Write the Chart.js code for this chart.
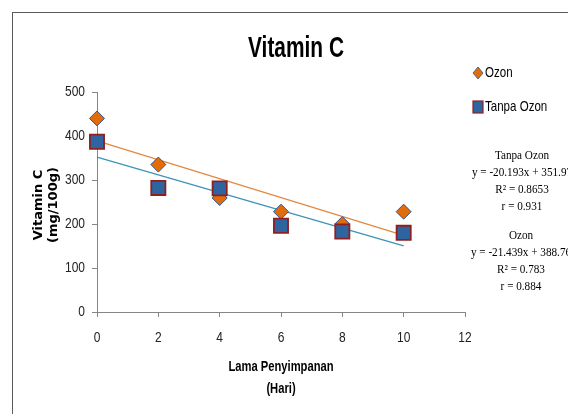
<!DOCTYPE html>
<html>
<head>
<meta charset="utf-8">
<title>Vitamin C</title>
<script src="https://cdn.jsdelivr.net/npm/chart.js@4.4.1/dist/chart.umd.min.js"></script>
<style>
  html, body { margin: 0; padding: 0; background: #fff; overflow: hidden; }
  #wrap { position: relative; width: 568px; height: 414px; }
  #frame {
    position: absolute; left: 12px; top: 12px;
    width: 620px; height: 460px;
    border: 1.5px solid #5a5a5a;
  }
  canvas { position: absolute; left: 0; top: 0; }
</style>
</head>
<body>
<div id="wrap">
  <div id="frame"></div>
  <canvas id="vitChart" width="568" height="414"></canvas>
</div>
<script>
// data
const days = [0, 2, 4, 6, 8, 10];
const ozon = [440, 335, 259, 228, 200, 228];
const tanpaOzon = [387, 282, 281, 196, 183, 180];
const yTicks = [0, 100, 200, 300, 400, 500];
const xTicks = [0, 2, 4, 6, 8, 10, 12];

// trend lines as printed on the chart (slope, intercept)
const ozonFit = [-21.439, 388.76];
const tanpaFit = [-20.193, 351.97];
const ozonNotes = ['Ozon', 'y = -21.439x + 388.76', 'R\u00B2 = 0.783', 'r = 0.884'];
const tanpaNotes = ['Tanpa Ozon', 'y = -20.193x + 351.97', 'R\u00B2 = 0.8653', 'r = 0.931'];

const sans = '"Liberation Sans", Arial, sans-serif';

function fitLine(fit) {
  const x0 = days[0], x1 = days[days.length - 1];
  return [{ x: x0, y: fit[0] * x0 + fit[1] }, { x: x1, y: fit[0] * x1 + fit[1] }];
}

// desenha texto "estreito" (a fonte original é condensada)
function narrowText(c, text, x, y, font, sx, align) {
  c.save();
  c.translate(x, y);
  c.scale(sx, 1);
  c.font = font;
  c.textAlign = align || 'center';
  c.fillText(text, 0, 0);
  c.restore();
}

// textos extras: titulo, ticks, eixos, legenda e equações
const extraText = {
  id: 'extraText',
  afterDraw(chart) {
    const c = chart.ctx;
    const xs = chart.scales.x, ys = chart.scales.y;
    c.save();
    c.fillStyle = '#000';
    c.textBaseline = 'middle';

    // title
    narrowText(c, 'Vitamin C', 296, 49, 'bold 29px ' + sans, 0.72);

    // tick labels
    c.fillStyle = '#222';
    xTicks.forEach(v => narrowText(c, String(v), xs.getPixelForValue(v), 338, '15px ' + sans, 0.8));
    yTicks.forEach(v => narrowText(c, String(v), 85, ys.getPixelForValue(v), '15px ' + sans, 0.8, 'right'));

    // x axis title
    c.fillStyle = '#000';
    narrowText(c, 'Lama Penyimpanan', 281, 367, 'bold 14px ' + sans, 0.8);
    narrowText(c, '(Hari)', 281, 389, 'bold 14px ' + sans, 0.8);

    // y axis title (rotated)
    c.save();
    c.translate(39, 205);
    c.rotate(-Math.PI / 2);
    c.textAlign = 'center';
    c.font = 'bold 13px "DejaVu Sans", Verdana, sans-serif';
    c.fillText('Vitamin C', 0, 0);
    c.fillText('(mg/100g)', 0, 15);
    c.restore();

    // legend
    c.beginPath();
    c.moveTo(478, 67); c.lineTo(483, 73); c.lineTo(478, 79); c.lineTo(473, 73); c.closePath();
    c.fillStyle = '#e36c0a'; c.fill();
    c.strokeStyle = '#2f5597'; c.lineWidth = 0.8; c.stroke();
    c.fillStyle = '#000';
    narrowText(c, 'Ozon', 485, 73, '15px ' + sans, 0.77, 'left');

    c.fillStyle = '#2e64a0';
    c.fillRect(473, 101, 10, 12);
    c.strokeStyle = '#8e2020'; c.lineWidth = 1.2;
    c.strokeRect(473, 101, 10, 12);
    c.fillStyle = '#000';
    narrowText(c, 'Tanpa Ozon', 485, 107, '15px ' + sans, 0.77, 'left');

    // regression notes
    const serif = '13px "Liberation Serif", "Times New Roman", serif';
    tanpaNotes.forEach((t, i) => narrowText(c, t, 522, 156 + i * 17, serif, 0.86));
    ozonNotes.forEach((t, i) => narrowText(c, t, 521, 236 + i * 17, serif, 0.86));
    c.restore();
  }
};

const ctx = document.getElementById('vitChart').getContext('2d');
const vitChart = new Chart(ctx, {
  type: 'scatter',
  data: {
    datasets: [
      {
        label: 'Tanpa Ozon',
        data: days.map((d, i) => ({ x: d, y: tanpaOzon[i] })),
        pointStyle: 'rect',
        pointRadius: 10,
        backgroundColor: '#2e64a0',
        borderColor: '#8e2020',
        borderWidth: 1.8,
        clip: false,
        order: 0
      },
      {
        label: 'Ozon',
        data: days.map((d, i) => ({ x: d, y: ozon[i] })),
        pointStyle: 'rectRot',
        pointRadius: 7.5,
        backgroundColor: '#e36c0a',
        borderColor: '#2f5597',
        borderWidth: 1,
        clip: false,
        order: 1
      },
      {
        label: 'fit ozon',
        type: 'line',
        data: fitLine(ozonFit),
        borderColor: '#e4883f',
        borderWidth: 1.3,
        pointRadius: 0,
        fill: false,
        clip: false,
        order: 2
      },
      {
        label: 'fit tanpa',
        type: 'line',
        data: fitLine(tanpaFit),
        borderColor: '#3d93b6',
        borderWidth: 1.3,
        pointRadius: 0,
        fill: false,
        clip: false,
        order: 3
      }
    ]
  },
  options: {
    responsive: false,
    animation: false,
    events: [],
    layout: { padding: { left: 0, right: 103, top: 92, bottom: 0 } },
    plugins: {
      legend: { display: false },
      title: { display: false },
      tooltip: { enabled: false }
    },
    scales: {
      x: {
        type: 'linear',
        min: 0,
        max: 12,
        afterFit: s => { s.height = 102; },
        afterBuildTicks: s => { s.ticks = xTicks.map(v => ({ value: v })); },
        border: { color: '#868686', width: 1 },
        grid: { drawOnChartArea: false, drawTicks: true, tickLength: 5, color: '#868686' },
        ticks: { display: false }
      },
      y: {
        min: 0,
        max: 500,
        afterFit: s => { s.width = 97; },
        afterBuildTicks: s => { s.ticks = yTicks.map(v => ({ value: v })); },
        border: { color: '#868686', width: 1 },
        grid: { drawOnChartArea: false, drawTicks: true, tickLength: 5, color: '#868686' },
        ticks: { display: false }
      }
    }
  },
  plugins: [extraText]
});
</script>
</body>
</html>
